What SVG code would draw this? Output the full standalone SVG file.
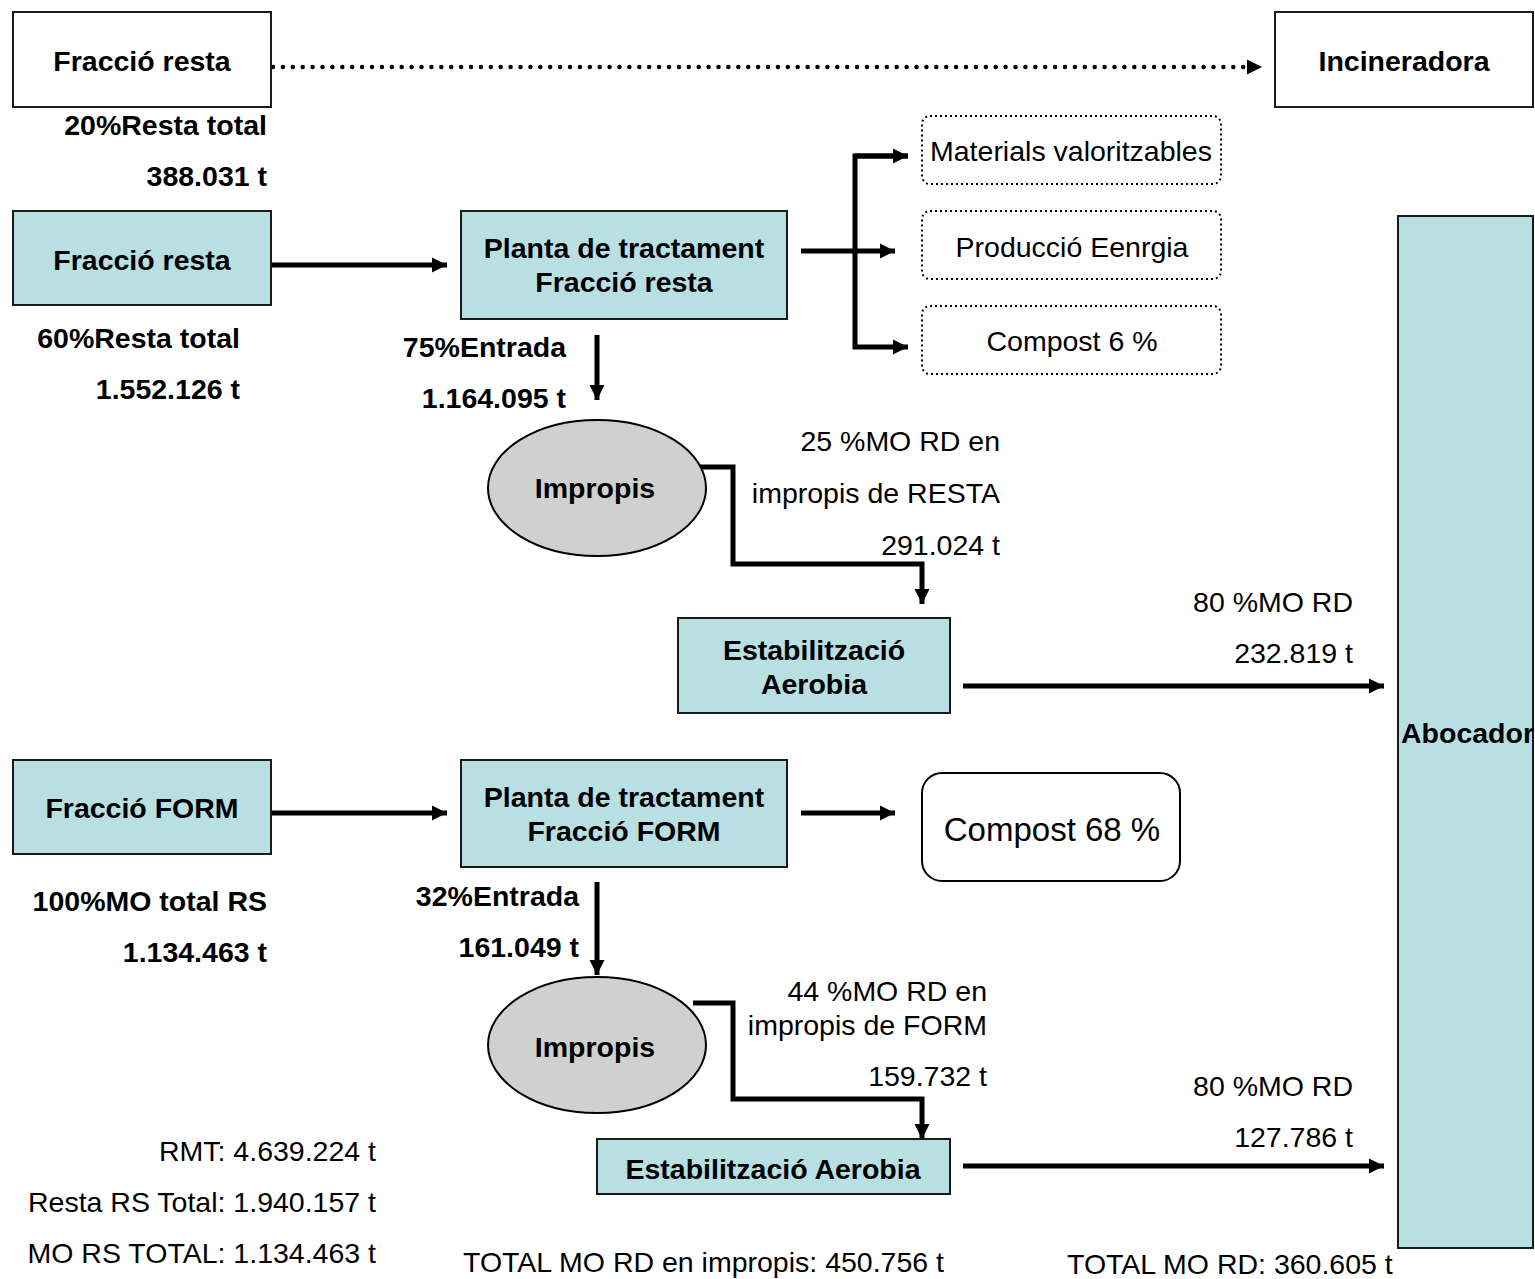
<svg xmlns="http://www.w3.org/2000/svg" width="1535" height="1279" viewBox="0 0 1535 1279">
<style>
text{font-family:"Liberation Sans",Arial,sans-serif;font-size:28.5px;fill:#000}
.b{font-weight:bold}
.box{stroke:#1a1a1a;stroke-width:2}
.w{fill:#fff}
.t{fill:#b8dfe2}
.dot{fill:#fff;stroke:#000;stroke-width:2;stroke-dasharray:2 3}
.ln{fill:none;stroke:#000;stroke-width:5}
.r{text-anchor:end}
.m{text-anchor:middle}
</style>
<defs>
<marker id="ah" viewBox="0 0 10 10" refX="10" refY="5" markerWidth="15" markerHeight="16" markerUnits="userSpaceOnUse" orient="auto"><path d="M0,0 L10,5 L0,10 z" fill="#000"/></marker>
</defs>
<rect width="1535" height="1279" fill="#fff"/>
<g id="connectors">
<line x1="273" y1="67" x2="1262" y2="67" stroke="#000" stroke-width="4.5" stroke-linecap="round" stroke-dasharray="0 9.9" marker-end="url(#ah)"/>
<line class="ln" x1="271" y1="265" x2="447" y2="265" marker-end="url(#ah)"/>
<line class="ln" x1="801" y1="251" x2="895" y2="251" marker-end="url(#ah)"/>
<path class="ln" d="M908,156 H855 V347 H908" marker-end="url(#ah)"/>
<line class="ln" x1="855" y1="156" x2="908" y2="156" marker-end="url(#ah)"/>
<line class="ln" x1="597" y1="335" x2="597" y2="400" marker-end="url(#ah)"/>
<path class="ln" d="M693,467 H733 V564 H922 V604" marker-end="url(#ah)"/>
<line class="ln" x1="963" y1="686" x2="1384" y2="686" marker-end="url(#ah)"/>
<line class="ln" x1="271" y1="813" x2="447" y2="813" marker-end="url(#ah)"/>
<line class="ln" x1="801" y1="813" x2="895" y2="813" marker-end="url(#ah)"/>
<line class="ln" x1="597" y1="882" x2="597" y2="975" marker-end="url(#ah)"/>
<path class="ln" d="M693,1003 H733 V1099 H922 V1139" marker-end="url(#ah)"/>
<line class="ln" x1="963" y1="1166" x2="1384" y2="1166" marker-end="url(#ah)"/>
</g>
<g id="n-fraccio-resta-top"><rect class="box w" x="13" y="12" width="258" height="95"/><text class="b m" x="142" y="71">Fracció resta</text></g>
<g id="n-incineradora"><rect class="box w" x="1275" y="12" width="258" height="95"/><text class="b m" x="1404" y="71">Incineradora</text></g>
<g id="n-fraccio-resta"><rect class="box t" x="13" y="211" width="258" height="94"/><text class="b m" x="142" y="270">Fracció resta</text></g>
<g id="n-planta-resta"><rect class="box t" x="461" y="211" width="326" height="108"/><text class="b m" x="624" y="258">Planta de tractament</text><text class="b m" x="624" y="292">Fracció resta</text></g>
<g id="n-materials"><rect class="dot" x="922" y="116" width="299" height="68" rx="8"/><text class="m" x="1071" y="161">Materials valoritzables</text></g>
<g id="n-energia"><rect class="dot" x="922" y="211" width="299" height="68" rx="8"/><text class="m" x="1072" y="257">Producció Eenrgia</text></g>
<g id="n-compost6"><rect class="dot" x="922" y="306" width="299" height="68" rx="8"/><text class="m" x="1072" y="351">Compost 6 %</text></g>
<g id="n-impropis1"><ellipse cx="597" cy="488" rx="109" ry="68" fill="#d0d0d0" stroke="#000" stroke-width="2"/><text class="b m" x="595" y="498">Impropis</text></g>
<g id="n-estab1"><rect class="box t" x="678" y="618" width="272" height="95"/><text class="b m" x="814" y="660">Estabilització</text><text class="b m" x="814" y="694">Aerobia</text></g>
<g id="n-abocador"><rect class="box t" x="1398" y="216" width="135" height="1032"/><text class="b" x="1401" y="743">Abocador</text></g>
<g id="n-fraccio-form"><rect class="box t" x="13" y="760" width="258" height="94"/><text class="b m" x="142" y="818">Fracció FORM</text></g>
<g id="n-planta-form"><rect class="box t" x="461" y="760" width="326" height="107"/><text class="b m" x="624" y="807">Planta de tractament</text><text class="b m" x="624" y="841">Fracció FORM</text></g>
<g id="n-compost68"><rect x="922" y="773" width="258" height="108" rx="20" fill="#fff" stroke="#000" stroke-width="2"/><text class="m" x="1052" y="841" style="font-size:33px">Compost 68 %</text></g>
<g id="n-impropis2"><ellipse cx="597" cy="1045" rx="109" ry="68" fill="#d0d0d0" stroke="#000" stroke-width="2"/><text class="b m" x="595" y="1057">Impropis</text></g>
<g id="n-estab2"><rect class="box t" x="597" y="1139" width="353" height="55"/><text class="b m" x="773" y="1179">Estabilització Aerobia</text></g>
<g id="labels">
<text class="b r" x="267" y="135">20%Resta total</text>
<text class="b r" x="267" y="186">388.031 t</text>
<text class="b r" x="240" y="348">60%Resta total</text>
<text class="b r" x="240" y="399">1.552.126 t</text>
<text class="b r" x="566" y="357">75%Entrada</text>
<text class="b r" x="566" y="408">1.164.095 t</text>
<text class="r" x="1000" y="451">25 %MO RD en</text>
<text class="r" x="1000" y="503">impropis de RESTA</text>
<text class="r" x="1000" y="555">291.024 t</text>
<text class="r" x="1353" y="612">80 %MO RD</text>
<text class="r" x="1353" y="663">232.819 t</text>
<text class="b r" x="267" y="911">100%MO total RS</text>
<text class="b r" x="267" y="962">1.134.463 t</text>
<text class="b r" x="579" y="906">32%Entrada</text>
<text class="b r" x="579" y="957">161.049 t</text>
<text class="r" x="987" y="1001">44 %MO RD en</text>
<text class="r" x="987" y="1035">impropis de FORM</text>
<text class="r" x="987" y="1086">159.732 t</text>
<text class="r" x="1353" y="1096">80 %MO RD</text>
<text class="r" x="1353" y="1147">127.786 t</text>
<text class="r" x="376" y="1161">RMT: 4.639.224 t</text>
<text class="r" x="376" y="1212">Resta RS Total: 1.940.157 t</text>
<text class="r" x="376" y="1263">MO RS TOTAL: 1.134.463 t</text>
<text x="463" y="1272">TOTAL MO RD en impropis: 450.756 t</text>
<text x="1067" y="1274">TOTAL MO RD: 360.605 t</text>
</g>
</svg>
